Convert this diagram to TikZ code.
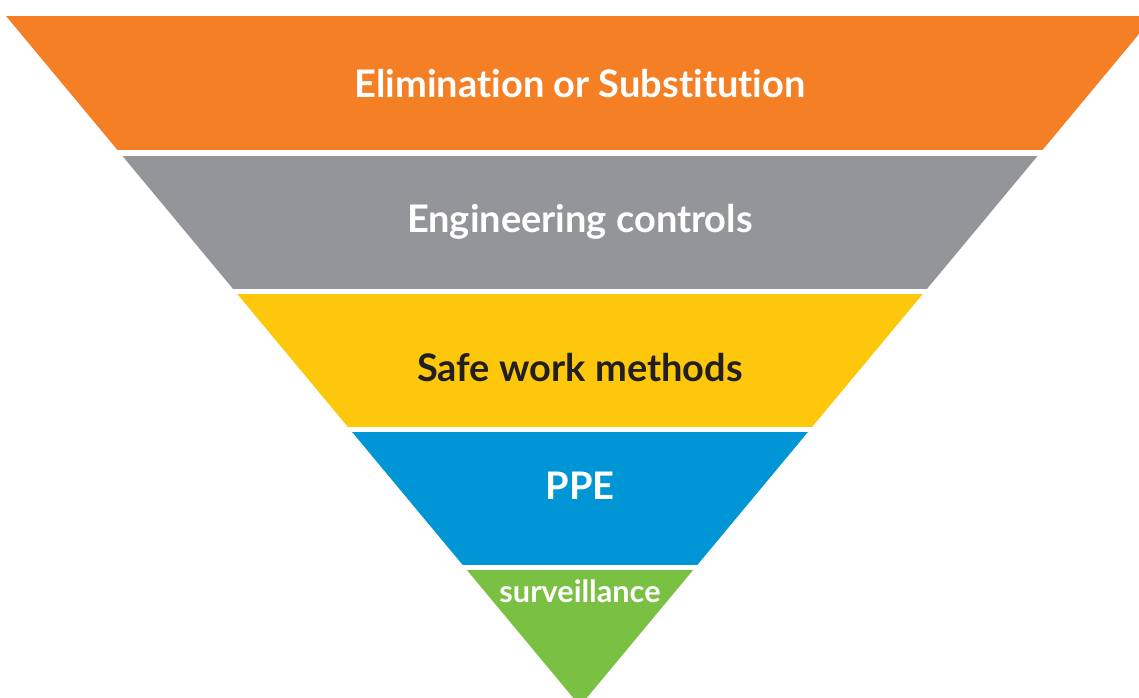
\documentclass[tikz,border=0pt]{standalone}
\usepackage{fontspec}
\setmainfont{Lato}[Ligatures=NoCommon]
\usepackage{xcolor}
\usepackage{tikz}

\definecolor{elimorange}{HTML}{F47F24}
\definecolor{enggray}{HTML}{939598}
\definecolor{safeyellow}{HTML}{FDC70C}
\definecolor{ppeblue}{HTML}{0096D5}
\definecolor{survgreen}{HTML}{7AC143}
\definecolor{labeldark}{HTML}{231F20}

\begin{document}
\begin{tikzpicture}[x=0.75pt, y=-0.75pt,
    bandlabel/.style={font=\bfseries\fontsize{28.5}{32}\selectfont, text=white, inner sep=0pt, anchor=base}]
            \useasboundingbox (0,0) rectangle (1139,698);
            \clip (0,0) rectangle (1139,698);
            \begin{scope}
                \clip (6,16) -- (1154,16) -- (580,706) -- cycle;
                \foreach \ytop/\ybot/\col in {16/150/elimorange, 156/289/enggray, 294/427/safeyellow, 432/565/ppeblue, 570/710/survgreen}
                    \fill[fill=\col] (0,\ytop) rectangle (1139,\ybot);
            \end{scope}
            \node[bandlabel] (elim) at (580,97.7) {Elimination or Substitution};
            \node[bandlabel] (eng) at (580,233) {Engineering controls};
            \node[bandlabel, text=labeldark] (safe) at (580,382) {Safe work methods};
            \node[bandlabel] (ppe) at (580,499) {PPE};
            \node[bandlabel, font=\bfseries\fontsize{23}{26}\selectfont] (surv) at (580,602) {surveillance};
        \end{tikzpicture}
\end{document}
